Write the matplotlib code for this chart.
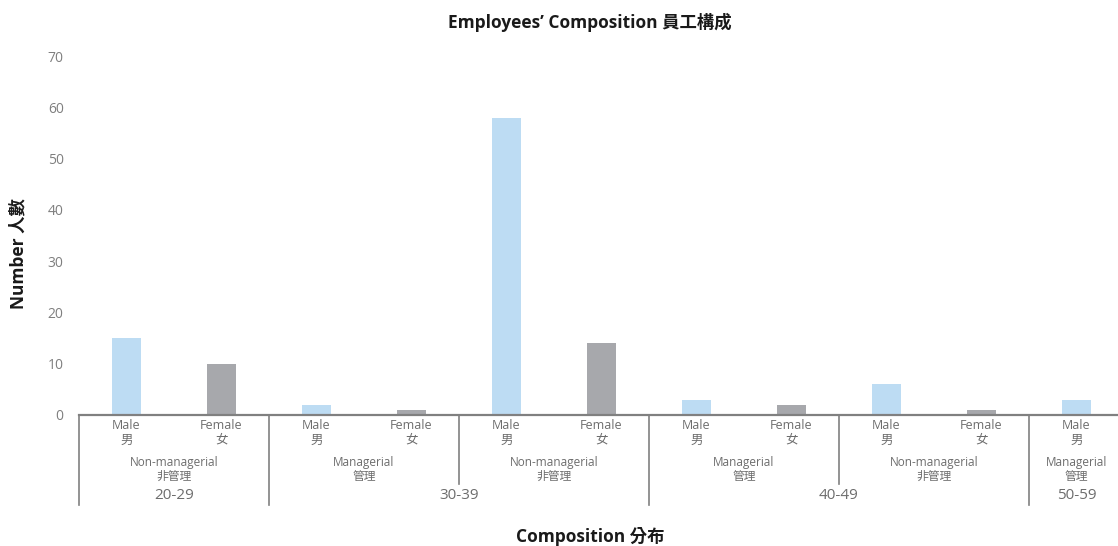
import matplotlib.pyplot as plt
from matplotlib.transforms import blended_transform_factory

plt.rcParams['font.family'] = ['Open Sans', 'Noto Sans CJK TC', 'DejaVu Sans']

# данные
genders = ['Male\n男', 'Female\n女', 'Male\n男', 'Female\n女', 'Male\n男', 'Female\n女',
           'Male\n男', 'Female\n女', 'Male\n男', 'Female\n女', 'Male\n男']
values = [15, 10, 2, 1, 58, 14, 3, 2, 6, 1, 3]
bar_colors = ['#BDDCF3' if g.startswith('Male') else '#A7A8AC' for g in genders]

# (начало, конец, подпись)
role_groups = [(0, 2, 'Non-managerial\n非管理'), (2, 4, 'Managerial\n管理'),
               (4, 6, 'Non-managerial\n非管理'), (6, 8, 'Managerial\n管理'),
               (8, 10, 'Non-managerial\n非管理'), (10, 11, 'Managerial\n管理')]
age_groups = [(0, 2, '20-29'), (2, 6, '30-39'), (6, 10, '40-49'), (10, 11, '50-59')]

W, H = 1118, 546
fig = plt.figure(figsize=(W / 100, H / 100), dpi=100)
# ось чуть выходит за правый край картинки, как в оригинале
ax = fig.add_axes([79 / W, 1 - 415 / H, 1045 / W, (415 - 56) / H])

x = list(range(len(values)))
ax.bar(x, values, width=0.31, color=bar_colors)
ax.set_xlim(-0.5, len(values) - 0.5)
ax.set_ylim(0, 70)
ax.set_yticks(range(0, 71, 10))
ax.set_xticks([])
ax.tick_params(axis='y', length=0, pad=11, labelsize=10, labelcolor='#7F7F7F')

for s in ['left', 'right', 'top']:
    ax.spines[s].set_visible(False)
ax.spines['bottom'].set_color('#808080')
ax.spines['bottom'].set_linewidth(1.6)

tr = blended_transform_factory(ax.transData, fig.transFigure)
fy = lambda py: 1 - py / H
lab_col = '#6D6D6D'

# подписи категорий
for i, g in enumerate(genders):
    ax.text(i, fy(419), g, transform=tr, ha='center', va='top', fontsize=9,
            color=lab_col, linespacing=1.15)

for a, b, lab in role_groups:
    ax.text((a + b - 1) / 2, fy(456), lab, transform=tr, ha='center', va='top',
            fontsize=8.5, color=lab_col, linespacing=1.1)

for a, b, lab in age_groups:
    ax.text((a + b - 1) / 2, fy(488), lab, transform=tr, ha='center', va='top',
            fontsize=11, color='#6D6D6D')

# разделители
age_edges = {a for a, b, _ in age_groups}
for a, b, _ in role_groups:
    bottom = 505 if a in age_edges else 484
    ax.plot([a - 0.5, a - 0.5], [fy(415), fy(bottom)], transform=tr,
            color='#808080', linewidth=1.2, clip_on=False)

fig.text(0.528, fy(22), 'Employees’ Composition 員工構成', ha='center', va='center',
         fontsize=12.5, fontweight='bold', color='#1A1A1A')
fig.text(0.528, fy(537), 'Composition 分布', ha='center', va='center',
         fontsize=12.5, fontweight='bold', color='#1A1A1A')
fig.text(18 / W, fy(254), 'Number 人數', ha='center', va='center', rotation=90,
         fontsize=12.5, fontweight='bold', color='#1A1A1A')

plt.savefig('out.png', dpi=100)
